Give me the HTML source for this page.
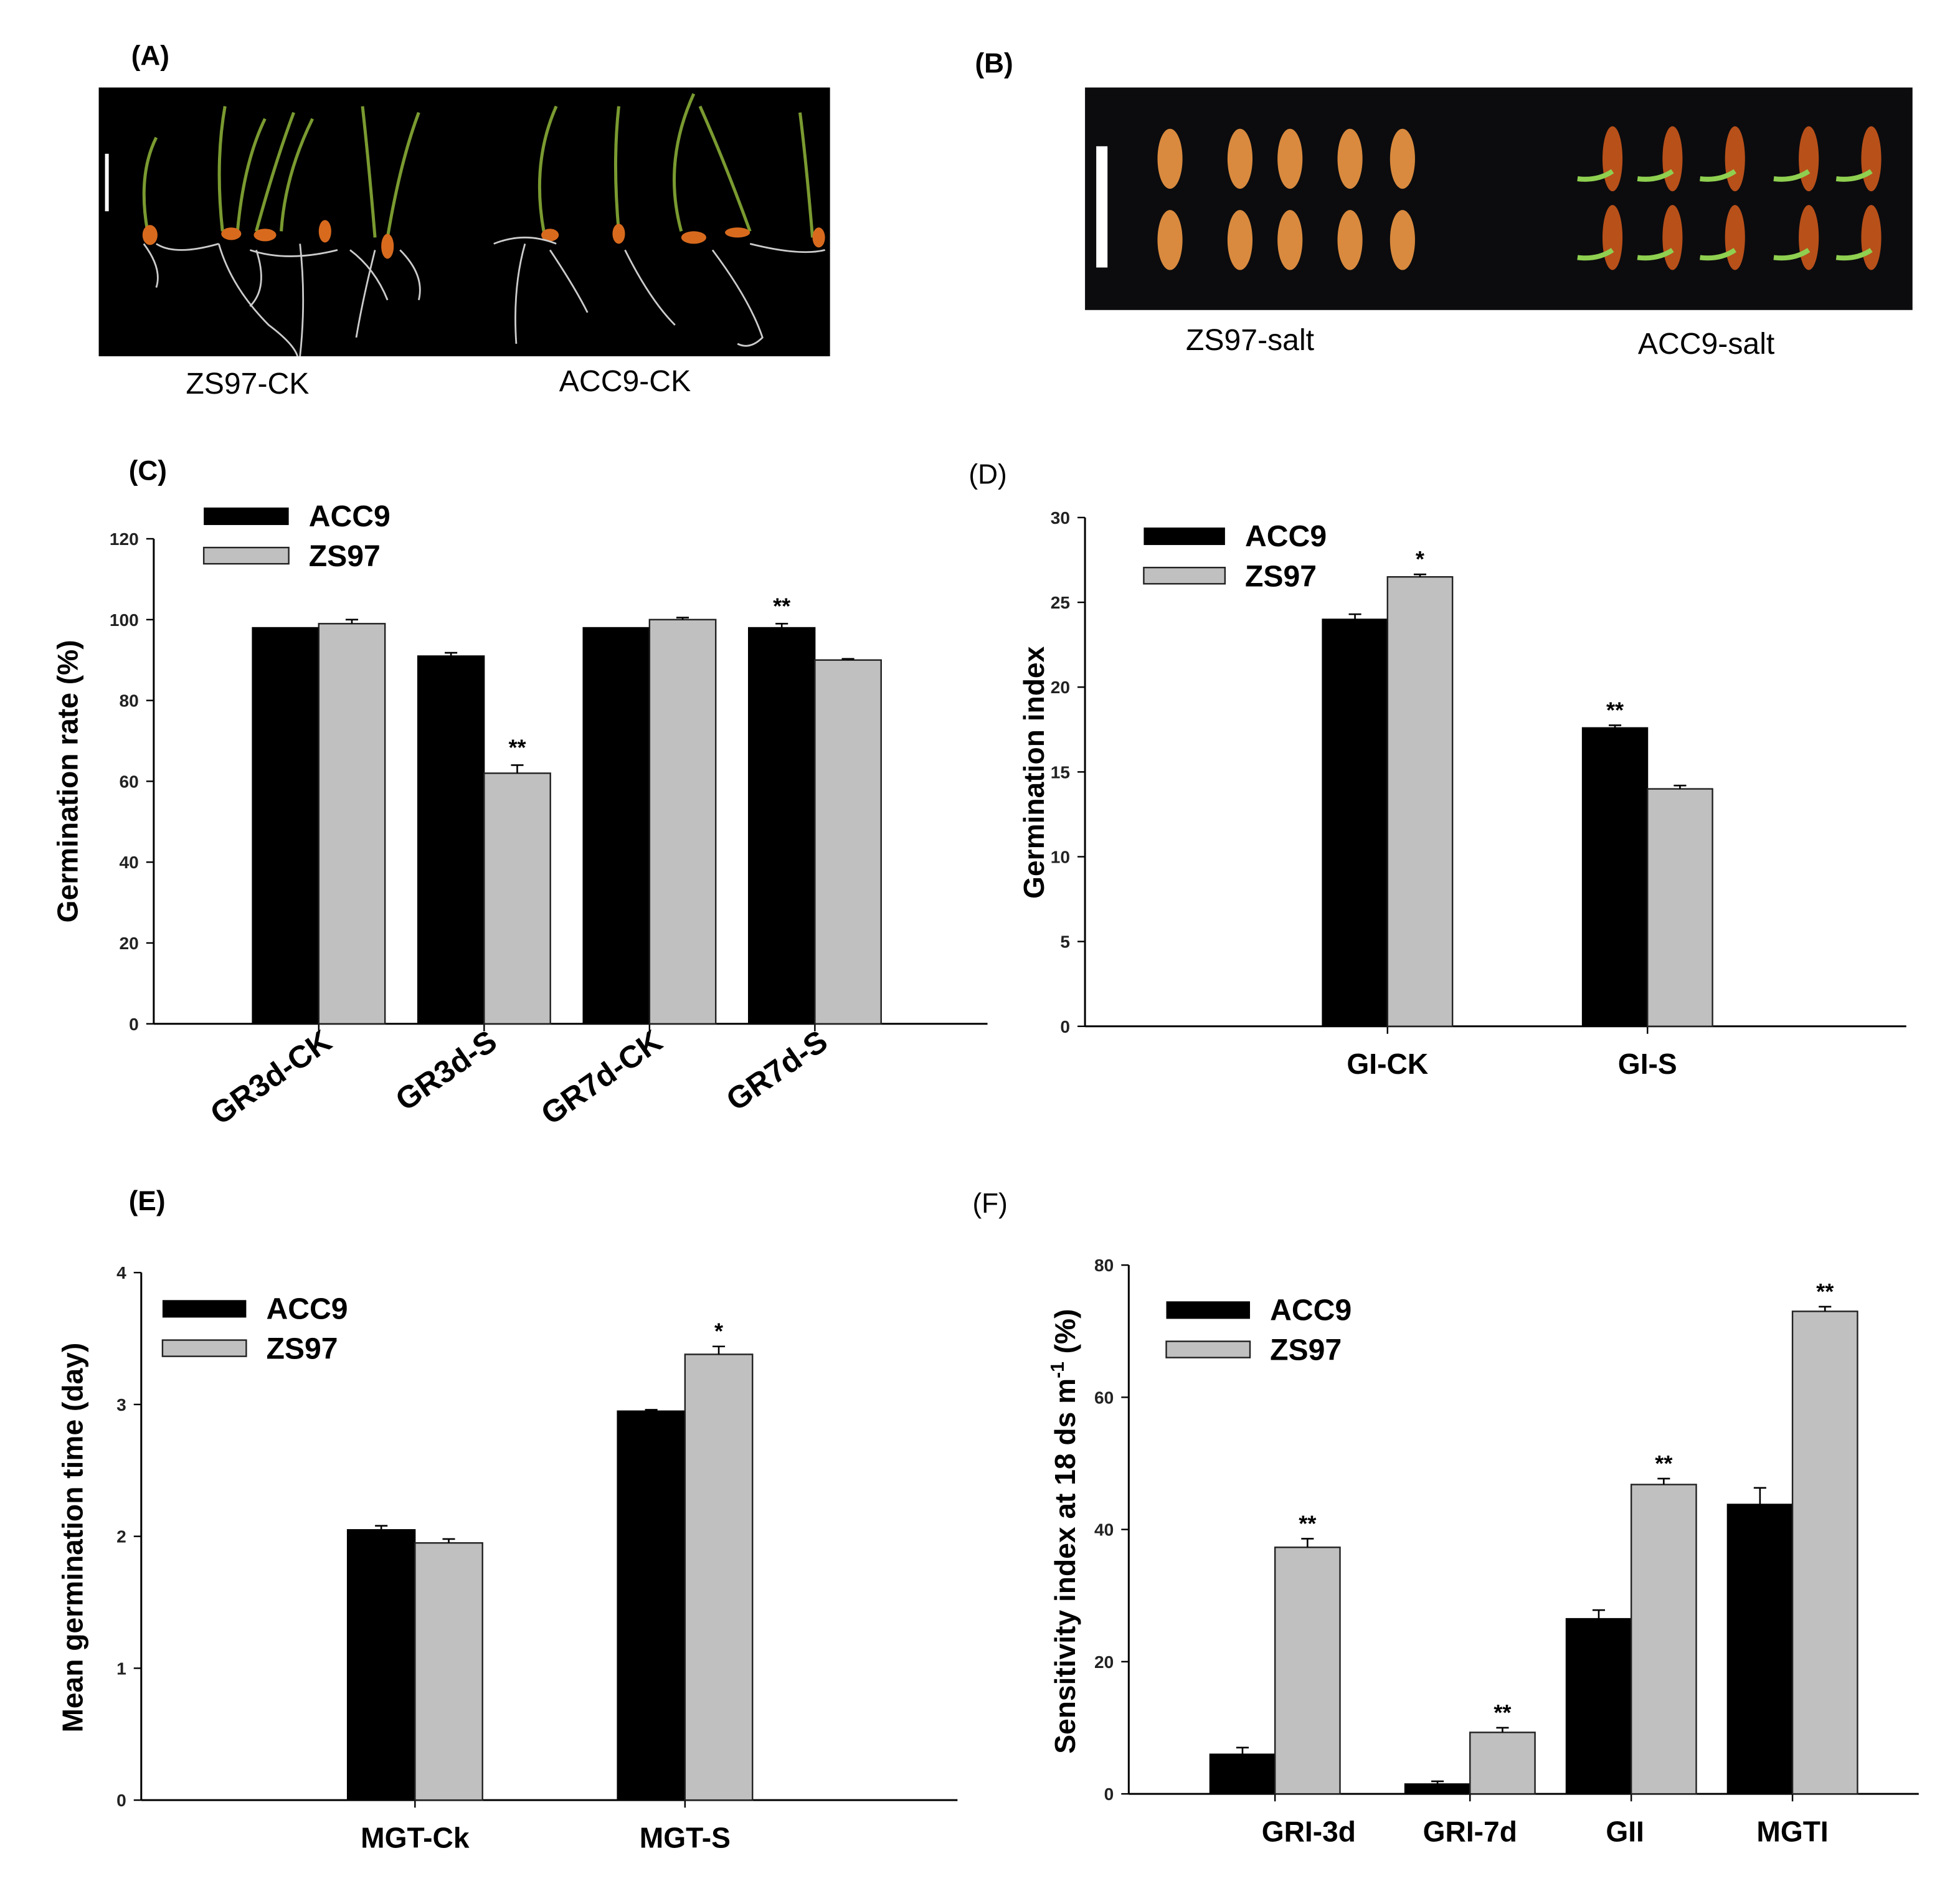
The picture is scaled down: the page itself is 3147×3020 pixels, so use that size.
<!DOCTYPE html>
<html><head><meta charset="utf-8">
<style>
html,body{margin:0;padding:0;background:#fff;}
svg{display:block;}
text{font-family:"Liberation Sans",Arial,sans-serif;}
.b{font-weight:bold;}
</style></head>
<body>
<svg id="fig" xmlns="http://www.w3.org/2000/svg" width="3147" height="3020" viewBox="0 0 1568 1504.7" preserveAspectRatio="none">
  <rect x="0" y="0" width="1568" height="1505" fill="#fff"/>
  <!-- Panel A -->
  <text x="105" y="52" font-size="22" class="b">(A)</text>
  <g>
    <rect x="79" y="70" width="585" height="215" fill="#000"/>
    <rect x="84" y="123" width="3" height="46" fill="#fff"/>
    <g stroke="#7a9a30" stroke-width="2.5" fill="none">
      <path d="M118 185 Q110 140 125 110"/><path d="M178 185 Q172 130 180 85"/><path d="M190 185 Q195 130 212 95"/>
      <path d="M205 185 Q220 130 235 90"/><path d="M225 185 Q228 140 250 95"/><path d="M300 190 Q295 130 290 85"/>
      <path d="M310 190 Q320 130 335 90"/><path d="M435 185 Q425 130 445 85"/><path d="M495 185 Q490 130 495 85"/>
      <path d="M545 185 Q530 130 555 75"/><path d="M600 185 Q580 130 560 85"/><path d="M650 190 Q645 130 640 90"/>
    </g>
    <g fill="#d86a1e">
      <ellipse cx="120" cy="188" rx="6" ry="8"/><ellipse cx="185" cy="187" rx="8" ry="5"/><ellipse cx="212" cy="188" rx="9" ry="5"/>
      <ellipse cx="260" cy="185" rx="5" ry="9"/><ellipse cx="310" cy="197" rx="5" ry="10"/><ellipse cx="440" cy="188" rx="7" ry="5"/>
      <ellipse cx="495" cy="187" rx="5" ry="8"/><ellipse cx="555" cy="190" rx="10" ry="5"/><ellipse cx="590" cy="186" rx="10" ry="4"/><ellipse cx="655" cy="190" rx="5" ry="8"/>
    </g>
    <g stroke="#ccc" stroke-width="1.4" fill="none">
      <path d="M115 195 Q130 215 125 230"/><path d="M175 195 Q185 230 215 260 Q235 275 238 285"/><path d="M240 195 Q245 240 240 285"/>
      <path d="M200 200 Q230 210 270 200"/><path d="M300 200 Q290 240 285 270"/><path d="M320 200 Q340 220 335 240"/>
      <path d="M420 195 Q410 230 413 275"/><path d="M440 200 Q460 230 470 250"/><path d="M500 200 Q520 240 540 260"/>
      <path d="M570 200 Q600 240 610 270 Q600 280 590 275"/><path d="M600 195 Q640 205 660 200"/><path d="M395 195 Q420 185 445 195"/>
      <path d="M125 195 Q140 205 175 195"/><path d="M205 200 Q215 230 200 245"/><path d="M280 200 Q300 215 310 240"/>
    </g>
  </g>
  <text x="198" y="315" font-size="24" text-anchor="middle">ZS97-CK</text>
  <text x="500" y="313" font-size="24" text-anchor="middle">ACC9-CK</text>
  <!-- Panel B -->
  <text x="780" y="58" font-size="22" class="b">(B)</text>
  <g>
    <rect x="868" y="70" width="662" height="178" fill="#0c0c0e"/>
    <rect x="877" y="117" width="9" height="97" fill="#fff"/>
    <g id="seedsB"></g>
  </g>
  <text x="1000" y="280" font-size="24" text-anchor="middle">ZS97-salt</text>
  <text x="1365" y="283" font-size="24" text-anchor="middle">ACC9-salt</text>

  <text x="103" y="384" font-size="22" class="b">(C)</text>
  <text x="775" y="387" font-size="22">(D)</text>
  <text x="103" y="968" font-size="22" class="b">(E)</text>
  <text x="778" y="970" font-size="22">(F)</text>
  <g id="charts"></g>
</svg>
<script>
// Panel C data
const cCategories = ["GR3d-CK","GR3d-S","GR7d-CK","GR7d-S"];
const cAcc9 = [98, 91, 98, 98];
const cZs97 = [99, 62, 100, 90];
const cAcc9Err = [0, 0.8, 0, 1];
const cZs97Err = [1, 2, 0.5, 0.3];
const cTicks = [0,20,40,60,80,100,120];
const cStarsAcc9 = ["","","","**"];
const cStarsZs97 = ["","**","",""];
// Panel D data
const dCategories = ["GI-CK","GI-S"];
const dAcc9 = [24, 17.6];
const dZs97 = [26.5, 14];
const dAcc9Err = [0.3, 0.15];
const dZs97Err = [0.15, 0.2];
const dTicks = [0,5,10,15,20,25,30];
const dStarsAcc9 = ["","**"];
const dStarsZs97 = ["*",""];
// Panel E data
const eCategories = ["MGT-Ck","MGT-S"];
const eAcc9 = [2.05, 2.95];
const eZs97 = [1.95, 3.38];
const eAcc9Err = [0.03, 0.01];
const eZs97Err = [0.03, 0.06];
const eTicks = [0,1,2,3,4];
const eStarsAcc9 = ["",""];
const eStarsZs97 = ["","*"];
// Panel F data
const fCategories = ["GRI-3d","GRI-7d","GII","MGTI"];
const fAcc9 = [6, 1.5, 26.5, 43.8];
const fZs97 = [37.3, 9.3, 46.8, 73];
const fAcc9Err = [1, 0.4, 1.3, 2.5];
const fZs97Err = [1.3, 0.7, 0.9, 0.7];
const fTicks = [0,20,40,60,80];
const fStarsAcc9 = ["","","",""];
const fStarsZs97 = ["**","**","**","**"];

const NS = "http://www.w3.org/2000/svg";
const root = document.getElementById("charts");
function mk(tag, attrs, parent){
  const e = document.createElementNS(NS, tag);
  for (const k in attrs) e.setAttribute(k, attrs[k]);
  (parent||root).appendChild(e);
  return e;
}
function txt(s, attrs, parent){ const e = mk("text", attrs, parent); e.textContent = s; return e; }

function chart(cfg){
  const g = mk("g", {});
  
  
  const yMax = cfg.ticks[cfg.ticks.length-1];
  const y = v => cfg.y0 - (v / yMax) * (cfg.y0 - cfg.yTop);
  // band positions: evenly spaced slots, with optional offset per slot for the uneven reference layout
  const x = i => cfg.firstCenter + i * cfg.step + (cfg.offsets ? cfg.offsets[i] : 0);
  const ya = mk("line", {x1:cfg.x0, y1:cfg.yTop, x2:cfg.x0, y2:cfg.y0, stroke:"#000", "stroke-width":1.5}, g);
  
  
  const xa = mk("line", {x1:cfg.x0, y1:cfg.y0, x2:cfg.xEnd, y2:cfg.y0, stroke:"#000", "stroke-width":1.5}, g);
  
  
  cfg.ticks.forEach(t => {
    mk("line", {x1:cfg.x0-6, y1:y(t), x2:cfg.x0, y2:y(t), stroke:"#000", "stroke-width":1.2}, g);
    const l = txt(String(t), {x:cfg.x0-12, y:y(t)+5, "font-size":14, "font-weight":"bold", "text-anchor":"end", fill:"#222"}, g);
    
    
  });
  cfg.cats.forEach((c, i) => {
    const cx = x(i);
    mk("line", {x1:cx, y1:cfg.y0, x2:cx, y2:cfg.y0+6, stroke:"#000", "stroke-width":1.2}, g);
    const bw = cfg.bw;
    const h1 = cfg.a[i], h2 = cfg.z[i];
    const r1 = mk("rect", {x:cx-bw, y:y(h1), width:bw, height:cfg.y0-y(h1), fill:"#000", stroke:"#000", "stroke-width":1}, g);
    
    
    const r2 = mk("rect", {x:cx, y:y(h2), width:bw, height:cfg.y0-y(h2), fill:"#c0c0c0", stroke:"#222", "stroke-width":1.2}, g);
    
    
    [[cx-bw/2, h1, cfg.ae[i], cfg.as[i]],[cx+bw/2, h2, cfg.ze[i], cfg.zs[i]]].forEach(([ex, v, e, s]) => {
      if (e > 0) {
        mk("line", {x1:ex, y1:y(v), x2:ex, y2:y(v+e), stroke:"#000", "stroke-width":1.3}, g);
        mk("line", {x1:ex-5, y1:y(v+e), x2:ex+5, y2:y(v+e), stroke:"#000", "stroke-width":1.3}, g);
      }
      if (s) {
        const st = txt(s, {x:ex, y:y(v+e)-cfg.starGap, "font-size":18, "font-weight":"bold", "text-anchor":"middle"}, g);
        
        
      }
    });
    let lab;
    if (cfg.rot) {
      lab = txt(c, {x:0, y:0, "font-size":25, "font-weight":"bold", "text-anchor":"end", transform:`translate(${cx+12},${cfg.y0+18}) rotate(-35)`}, g);
    } else {
      lab = txt(c, {x:cx + (cfg.labelShift ? cfg.labelShift[i] : 0), y:cfg.y0+38, "font-size":23, "font-weight":"bold", "text-anchor":"middle"}, g);
    }
    
    
  });
  const yt = txt(cfg.ytitle, {x:0, y:0, "font-size":cfg.ytSize||23, "font-weight":"bold", "text-anchor":"middle", transform:`translate(${cfg.ytX},${cfg.ytY}) rotate(-90)`}, g);
  
  
  if (cfg.sup) { const sp = mk("tspan", {dy:-9, "font-size":15}, yt); sp.textContent = "-1"; const s2 = mk("tspan", {dy:9}, yt); s2.textContent = " (%)"; }
  const L = cfg.leg;
  const lg = mk("g", {}, g);
  
  
  mk("rect", {x:L.x, y:L.y, width:L.w, height:14, fill:"#000"}, lg);
  mk("rect", {x:L.x, y:L.y+32, width:L.w, height:13, fill:"#c0c0c0", stroke:"#222", "stroke-width":1.2}, lg);
  const t1 = txt("ACC9", {x:L.x+L.w+16, y:L.y+15, "font-size":24, "font-weight":"bold"}, lg);
  
  
  const t2 = txt("ZS97", {x:L.x+L.w+16, y:L.y+47, "font-size":24, "font-weight":"bold"}, lg);
  
  
}

chart({name:"chart-c-germination-rate", cats:cCategories, a:cAcc9, z:cZs97, ae:cAcc9Err, ze:cZs97Err, as:cStarsAcc9, zs:cStarsZs97,
  ticks:cTicks, x0:123, xEnd:790, y0:819, yTop:431, firstCenter:255, step:132.3, bw:53, rot:true, starGap:8,
  ytitle:"Germination rate (%)", ytX:62, ytY:625, leg:{x:163, y:406, w:68}});
chart({name:"chart-d-germination-index", cats:dCategories, a:dAcc9, z:dZs97, ae:dAcc9Err, ze:dZs97Err, as:dStarsAcc9, zs:dStarsZs97,
  ticks:dTicks, x0:868, xEnd:1525, y0:821, yTop:414, firstCenter:1110, step:208, bw:52, starGap:6,
  ytitle:"Germination index", ytX:835, ytY:618, leg:{x:915, y:422, w:65}});
chart({name:"chart-e-mean-germination-time", cats:eCategories, a:eAcc9, z:eZs97, ae:eAcc9Err, ze:eZs97Err, as:eStarsAcc9, zs:eStarsZs97,
  ticks:eTicks, x0:113, xEnd:766, y0:1440, yTop:1018, firstCenter:332, step:216, bw:54, starGap:6,
  ytitle:"Mean germination time (day)", ytX:66, ytY:1230, leg:{x:130, y:1040, w:67}});
chart({name:"chart-f-sensitivity-index", cats:fCategories, a:fAcc9, z:fZs97, ae:fAcc9Err, ze:fZs97Err, as:fStarsAcc9, zs:fStarsZs97,
  ticks:fTicks, x0:903, xEnd:1535, y0:1435, yTop:1012, firstCenter:1020, step:129, bw:52, starGap:6,
  offsets:[0, 27, 27, 27], labelShift:[27, 0, -5, 0],
  ytitle:"Sensitivity index at 18 ds m", sup:true, ytX:860, ytY:1225, leg:{x:933, y:1041, w:67}});

const sb = document.getElementById("seedsB");
const seedX1 = [936,992,1032,1080,1122];
const seedX2 = [1290,1338,1388,1447,1497];
seedX1.forEach(sx => [127,192].forEach(sy => { mk("ellipse", {cx:sx, cy:sy, rx:10, ry:24, fill:"#d98a3e"}, sb); }));
seedX2.forEach(sx => [127,190].forEach(sy => {
  mk("ellipse", {cx:sx, cy:sy, rx:8, ry:26, fill:"#b8501a"}, sb);
  mk("path", {d:`M${sx} ${sy+10} q-12 8 -28 6`, stroke:"#8fd050", "stroke-width":4, fill:"none"}, sb);
}));
</script>
</body></html>
